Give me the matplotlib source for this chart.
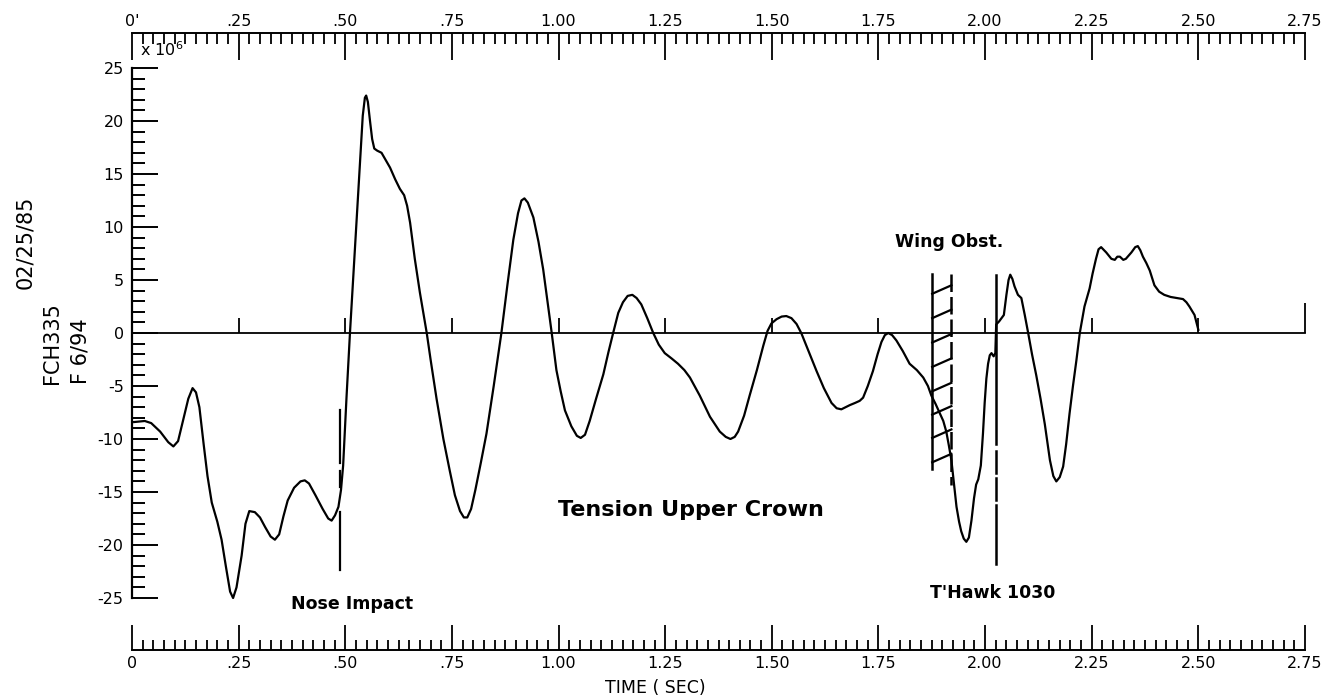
import matplotlib
matplotlib.use("Agg")
import matplotlib.pyplot as plt
from matplotlib.ticker import FixedLocator, MultipleLocator

# ---- measured trace: time (s) and tension (x 10^6) ----
time_s = [
    0.005, 0.03, 0.045, 0.066, 0.085, 0.097, 0.108, 0.12, 0.132, 0.142,
    0.15, 0.158, 0.168, 0.177, 0.187, 0.2, 0.21, 0.22, 0.23, 0.237,
    0.245, 0.257, 0.266, 0.275, 0.288, 0.3, 0.312, 0.325, 0.335, 0.345,
    0.355, 0.365, 0.38, 0.395, 0.405, 0.415, 0.43, 0.447, 0.46, 0.468,
    0.476, 0.484, 0.49, 0.495, 0.503, 0.511, 0.522, 0.534, 0.541, 0.546,
    0.549, 0.553, 0.558, 0.563, 0.568, 0.575, 0.585, 0.595, 0.605, 0.617,
    0.628, 0.638, 0.645, 0.652, 0.663, 0.675, 0.691, 0.70, 0.714, 0.73,
    0.745, 0.757, 0.769, 0.778, 0.786, 0.795, 0.805, 0.818, 0.831, 0.848,
    0.866, 0.88, 0.894, 0.905, 0.913, 0.92, 0.928, 0.941, 0.953, 0.964,
    0.974, 0.984, 0.995, 1.005, 1.015, 1.03, 1.043, 1.052, 1.062, 1.073,
    1.088, 1.105, 1.117, 1.128, 1.14, 1.151, 1.162, 1.173, 1.183, 1.194,
    1.208, 1.222, 1.235, 1.249, 1.265, 1.28, 1.295, 1.308, 1.331, 1.355,
    1.378, 1.392, 1.403, 1.413, 1.421, 1.435, 1.448, 1.465, 1.48, 1.49,
    1.499, 1.511, 1.523, 1.534, 1.546, 1.558, 1.569, 1.585, 1.605, 1.622,
    1.64, 1.652, 1.663, 1.673, 1.683, 1.695, 1.706, 1.714, 1.725, 1.737,
    1.748, 1.757, 1.765, 1.773, 1.782, 1.792, 1.807, 1.823, 1.84, 1.855,
    1.866, 1.874, 1.884, 1.894, 1.902, 1.909, 1.915, 1.921, 1.927, 1.933,
    1.939, 1.944, 1.95, 1.956, 1.962, 1.968, 1.974, 1.979, 1.984, 1.99,
    1.995, 1.999, 2.003, 2.007, 2.011, 2.015, 2.02, 2.024, 2.026, 2.033,
    2.044, 2.05, 2.055, 2.059, 2.064, 2.069, 2.077, 2.085, 2.093, 2.101,
    2.11, 2.12, 2.13, 2.14, 2.152, 2.16, 2.167, 2.175, 2.183, 2.19,
    2.198, 2.206, 2.214, 2.222, 2.233, 2.245, 2.252, 2.26, 2.266, 2.272,
    2.284, 2.296, 2.304, 2.31, 2.316, 2.324, 2.33, 2.343, 2.352, 2.358,
    2.364, 2.37, 2.378, 2.386, 2.397, 2.408, 2.42, 2.435, 2.45, 2.464,
    2.472, 2.479, 2.491, 2.5,
]
tension = [
    -8.4, -8.3, -8.5, -9.3, -10.3, -10.7, -10.2, -8.2, -6.2, -5.2,
    -5.6, -7.0, -10.5, -13.5, -16.0, -17.8, -19.5, -22.0, -24.4, -25.0,
    -24.0, -21.0, -18.0, -16.8, -16.9, -17.4, -18.3, -19.2, -19.5, -19.0,
    -17.3, -15.8, -14.6, -14.0, -13.9, -14.2, -15.3, -16.6, -17.5, -17.7,
    -17.2, -16.4, -14.8, -12.5, -6.0, 0.0, 7.5, 15.7, 20.5, 22.2,
    22.4, 21.8, 20.0, 18.3, 17.4, 17.2, 17.0, 16.3, 15.6, 14.5,
    13.6, 13.0, 12.0, 10.4, 7.0, 3.8, 0.0, -2.5, -6.2, -10.0,
    -13.0, -15.3, -16.8, -17.4, -17.4, -16.6, -14.8, -12.2, -9.5, -5.0,
    0.0, 4.5, 8.8, 11.3, 12.5, 12.7, 12.3, 10.9, 8.6, 6.0,
    3.0, 0.0, -3.5, -5.5, -7.3, -8.8, -9.7, -9.9, -9.6, -8.3,
    -6.2, -3.9, -1.8, 0.0, 1.9, 2.9, 3.5, 3.6, 3.3, 2.7,
    1.4, 0.0, -1.1, -1.9, -2.4, -2.9, -3.5, -4.2, -5.9, -7.9,
    -9.3, -9.8, -10.0, -9.8, -9.3, -7.8, -5.9, -3.5, -1.2, 0.2,
    0.9, 1.3, 1.55, 1.6, 1.4, 0.85, 0.0, -1.6, -3.6, -5.2,
    -6.6, -7.1, -7.2, -7.0, -6.8, -6.6, -6.4, -6.1, -5.0, -3.6,
    -2.0, -0.85, -0.2, 0.0, -0.2, -0.7, -1.7, -2.9, -3.5, -4.2,
    -5.0, -5.9, -6.7, -7.6, -8.3, -9.3, -10.6, -12.0, -14.2, -16.4,
    -17.8, -18.7, -19.4, -19.7, -19.3, -17.7, -15.6, -14.3, -13.8, -12.5,
    -9.5, -6.6, -4.3, -2.9, -2.1, -1.9, -2.2, -1.9, 0.8, 1.1,
    1.7, 3.6, 5.0, 5.5, 5.1, 4.4, 3.6, 3.3, 1.7, 0.0,
    -2.0, -4.0, -6.2, -8.6, -12.0, -13.5, -14.0, -13.6, -12.6, -10.5,
    -7.6, -5.0, -2.6, 0.0, 2.5, 4.2, 5.6, 7.0, 7.9, 8.1,
    7.6, 7.0, 6.9, 7.2, 7.2, 6.9, 7.0, 7.6, 8.1, 8.2,
    7.8, 7.2, 6.6, 5.9, 4.5, 3.9, 3.6, 3.4, 3.3, 3.2,
    2.9, 2.5, 1.7, 0.3,
]

# ---- scales and labels ----
time_ticks = [0.0, 0.25, 0.50, 0.75, 1.00, 1.25, 1.50, 1.75, 2.00, 2.25, 2.50, 2.75]
top_labels = ["0'", ".25", ".50", ".75", "1.00", "1.25", "1.50", "1.75",
              "2.00", "2.25", "2.50", "2.75"]
bottom_labels = ["0", ".25", ".50", ".75", "1.00", "1.25", "1.50", "1.75",
                 "2.00", "2.25", "2.50", "2.75"]
tension_ticks = [-25, -20, -15, -10, -5, 0, 5, 10, 15, 20, 25]

# ---- event markers ----
nose_time = 0.487
nose_segments = [(-7.3, -12.3), (-13.0, -14.5), (-16.9, -22.4)]
thawk_time = 2.025
thawk_segments = [(5.5, -10.5), (-11.1, -13.2), (-13.7, -15.8), (-16.2, -21.8)]
wing_left_time = 1.876
wing_right_time = 1.921
wing_left_span = (5.6, -12.8)
wing_right_span = (5.6, -14.3)
hatch_start = [3.7, 1.4, -0.9, -3.2, -5.5, -7.7, -9.9, -12.2]
hatch_rise = 0.8

W_PX, H_PX = 1343, 699
fig = plt.figure(figsize=(W_PX / 100, H_PX / 100), dpi=100)

x0, x1 = 132, 1305          # pixel extent of the time axis
y_top, y_bot = 68, 598      # pixel extent of the tension axis
L = x0 / W_PX
Wd = (x1 - x0) / W_PX

tick_font = dict(family="DejaVu Sans", size=11.5)

# ---- main plotting area ----
ax = fig.add_axes([L, 1 - y_bot / H_PX, Wd, (y_bot - y_top) / H_PX])
ax.set_xlim(0, 2.75)
ax.set_ylim(-25, 25)
ax.patch.set_visible(False)
for s in ("top", "right", "bottom"):
    ax.spines[s].set_visible(False)
ax.spines["left"].set_linewidth(1.6)
ax.xaxis.set_visible(False)
ax.yaxis.set_major_locator(FixedLocator(tension_ticks))
ax.set_yticklabels([str(v) for v in tension_ticks], **tick_font)
ax.yaxis.set_minor_locator(MultipleLocator(1))
ax.tick_params(axis="y", which="major", direction="in", length=18.5, width=1.4, pad=6)
ax.tick_params(axis="y", which="minor", direction="in", length=9.4, width=1.4)

# zero reference line with small time marks
ax.plot([0, 2.75], [0, 0], color="black", lw=1.3, clip_on=False)
ax.vlines(time_ticks[1:-1], 0, 1.4, color="black", lw=1.3)
ax.vlines(time_ticks[-1], 0, 2.8, color="black", lw=1.3, clip_on=False)

# the trace
ax.plot(time_s, tension, color="black", lw=1.6, clip_on=False)

# nose impact marker
for a, b in nose_segments:
    ax.plot([nose_time, nose_time], [a, b], color="black", lw=1.6)

# T'Hawk marker
for a, b in thawk_segments:
    ax.plot([thawk_time, thawk_time], [a, b], color="black", lw=1.8)

# wing obstruction band
ax.plot([wing_left_time] * 2, wing_left_span, color="black", lw=1.8)
ax.plot([wing_right_time] * 2, wing_right_span, color="black", lw=1.8,
        linestyle=(0, (7, 2)))
for v in hatch_start:
    ax.plot([wing_left_time, wing_right_time], [v, v + hatch_rise],
            color="black", lw=1.6)

label_font = dict(family="DejaVu Sans", weight="bold", color="black")
ax.text(1.31, -16.7, "Tension Upper Crown", ha="center", va="center",
        fontsize=16, **label_font)
ax.text(0.516, -25.6, "Nose Impact", ha="center", va="center",
        fontsize=12.5, clip_on=False, **label_font)
ax.text(1.915, 8.6, "Wing Obst.", ha="center", va="center",
        fontsize=12.5, **label_font)
ax.text(2.018, -24.5, "T'Hawk 1030", ha="center", va="center",
        fontsize=12.5, clip_on=False, **label_font)

# ---- top time ruler ----
ax_top = fig.add_axes([L, 1 - 60 / H_PX, Wd, 27 / H_PX])
ax_top.set_xlim(0, 2.75)
ax_top.patch.set_visible(False)
for s in ("bottom", "left", "right"):
    ax_top.spines[s].set_visible(False)
ax_top.spines["top"].set_linewidth(1.4)
ax_top.yaxis.set_visible(False)
ax_top.xaxis.set_ticks_position("top")
ax_top.xaxis.set_major_locator(FixedLocator(time_ticks))
ax_top.set_xticklabels(top_labels, **tick_font)
ax_top.xaxis.set_minor_locator(MultipleLocator(0.025))
ax_top.tick_params(axis="x", which="major", direction="in", length=19.4, width=1.3, pad=3)
ax_top.tick_params(axis="x", which="minor", direction="in", length=8, width=1.3)
fig.text(140 / W_PX, 1 - 50 / H_PX, r"x 10$^{6}$", fontsize=11.5,
         family="DejaVu Sans", ha="left", va="center")

# ---- bottom time ruler ----
ax_bot = fig.add_axes([L, 1 - 650 / H_PX, Wd, 25 / H_PX])
ax_bot.set_xlim(0, 2.75)
ax_bot.patch.set_visible(False)
for s in ("top", "left", "right"):
    ax_bot.spines[s].set_visible(False)
ax_bot.spines["bottom"].set_linewidth(1.4)
ax_bot.yaxis.set_visible(False)
ax_bot.xaxis.set_major_locator(FixedLocator(time_ticks))
ax_bot.set_xticklabels(bottom_labels, **tick_font)
ax_bot.xaxis.set_minor_locator(MultipleLocator(0.025))
ax_bot.tick_params(axis="x", which="major", direction="in", length=18, width=1.3, pad=4)
ax_bot.tick_params(axis="x", which="minor", direction="in", length=7, width=1.3)
fig.text(655 / W_PX, 1 - 688 / H_PX, "TIME ( SEC)", fontsize=12.5,
         family="DejaVu Sans", ha="center", va="center")

# ---- run identification along the left edge ----
side_font = dict(family="DejaVu Sans", fontsize=15, rotation=90,
                 rotation_mode="anchor", ha="left", va="center")
fig.text(25 / W_PX, 1 - 289 / H_PX, "02/25/85", **side_font)
fig.text(52 / W_PX, 1 - 384 / H_PX, "FCH335", **side_font)
fig.text(81 / W_PX, 1 - 384 / H_PX, "F 6/94", **side_font)

fig.savefig("out.png", dpi=100)
